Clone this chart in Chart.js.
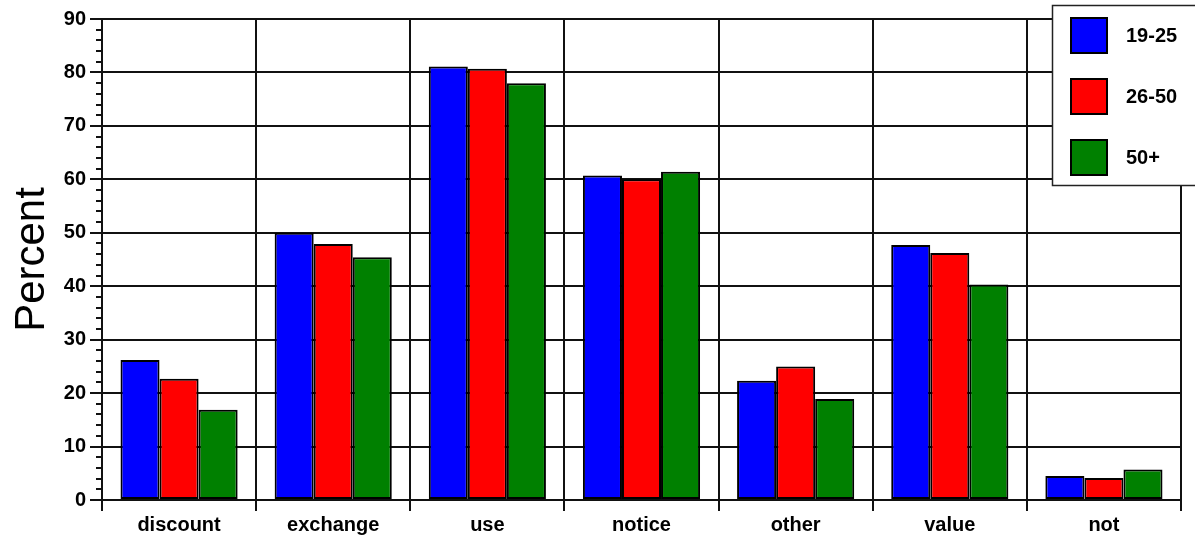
<!DOCTYPE html>
<html>
<head>
<meta charset="utf-8">
<script src="https://cdn.jsdelivr.net/npm/chart.js@4/dist/chart.umd.min.js"></script>
<style>
  html, body { margin: 0; padding: 0; background: #fff; }
  #chart { display: block; }
</style>
</head>
<body>
<canvas id="chart" width="1195" height="540"></canvas>
<script>
const categories = ['discount', 'exchange', 'use', 'notice', 'other', 'value', 'not'];
const ageGroups = ['19-25', '26-50', '50+'];
const young = [26.2, 50.0, 81.1, 60.7, 22.3, 47.7, 4.5];
const middle = [22.7, 47.9, 80.7, 60.0, 25.0, 46.2, 4.1];
const older = [16.9, 45.4, 78.0, 61.4, 18.9, 40.3, 5.7];
const yTicks = [0, 10, 20, 30, 40, 50, 60, 70, 80, 90];

const colors = ['#0000ff', '#ff0000', '#008000'];
const labelFont = { family: '"Liberation Sans", Arial, sans-serif', size: 20, weight: 'bold' };

// small ticks every 2 units on the left of the y axis
const minorTicks = {
    id: 'minorTicks',
    afterDraw(chart) {
        const y = chart.scales.y;
        const ctx = chart.ctx;
        ctx.save();
        ctx.strokeStyle = '#111';
        ctx.lineWidth = 2;
        for (let v = 0; v <= 90; v += 2) {
            if (v % 10 === 0) continue;
            const py = Math.round(y.getPixelForValue(v));
            ctx.beginPath();
            ctx.moveTo(y.right - 6, py);
            ctx.lineTo(y.right, py);
            ctx.stroke();
        }
        ctx.restore();
    }
};

// boxed legend in the top right corner, over the grid
const boxLegend = {
    id: 'boxLegend',
    afterDraw(chart) {
        const ctx = chart.ctx;
        const left = 1052, top = 5, w = 160, h = 180;
        ctx.save();
        ctx.fillStyle = '#fff';
        ctx.fillRect(left, top, w, h);
        ctx.strokeStyle = '#222';
        ctx.lineWidth = 1.5;
        ctx.strokeRect(left + 0.5, top + 0.5, w, h);
        chart.data.datasets.forEach((ds, i) => {
            const sy = 17 + i * 61;
            ctx.fillStyle = ds.backgroundColor;
            ctx.fillRect(1070, sy, 38, 37);
            ctx.strokeStyle = '#000';
            ctx.lineWidth = 2;
            ctx.strokeRect(1071, sy + 1, 36, 35);
            ctx.fillStyle = '#000';
            ctx.font = 'bold 20px "Liberation Sans", Arial, sans-serif';
            ctx.textBaseline = 'middle';
            ctx.fillText(ds.label, 1126, sy + 19);
        });
        ctx.restore();
    }
};

const datasets = [young, middle, older].map((values, i) => ({
    label: ageGroups[i],
    data: values,
    backgroundColor: colors[i],
    borderColor: '#000',
    borderWidth: 2,
    borderSkipped: false,
    categoryPercentage: 0.76,
    barPercentage: 1.0
}));

new Chart(document.getElementById('chart').getContext('2d'), {
    type: 'bar',
    data: { labels: categories, datasets: datasets },
    options: {
        responsive: false,
        animation: false,
        layout: { padding: { top: 19, right: 14, left: 0, bottom: 0 } },
        plugins: {
            legend: { display: false },
            tooltip: { enabled: false }
        },
        scales: {
            x: {
                offset: true,
                grid: {
                    offset: true,
                    color: '#111',
                    lineWidth: 2,
                    tickLength: 11,
                    tickColor: '#111'
                },
                border: { color: '#111', width: 2 },
                ticks: { color: '#000', font: labelFont, padding: 2 },
                afterFit(scale) { scale.height = 40; }
            },
            y: {
                min: 0,
                max: 90,
                afterBuildTicks(scale) { scale.ticks = yTicks.map(v => ({ value: v })); },
                grid: {
                    color: '#111',
                    lineWidth: 2,
                    tickLength: 12,
                    tickColor: '#111'
                },
                border: { color: '#111', width: 2 },
                ticks: { color: '#000', font: labelFont, padding: 4 },
                title: {
                    display: true,
                    text: 'Percent',
                    color: '#000',
                    font: { family: '"Liberation Sans", Arial, sans-serif', size: 42, weight: 'normal' },
                    padding: { top: 7, bottom: 0 }
                },
                afterFit(scale) { scale.width = 102; }
            }
        }
    },
    plugins: [minorTicks, boxLegend]
});
</script>
</body>
</html>
